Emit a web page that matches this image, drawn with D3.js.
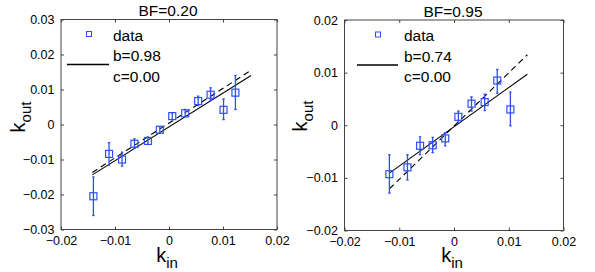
<!DOCTYPE html>
<html>
<head>
<meta charset="utf-8">
<script src="https://cdn.jsdelivr.net/npm/d3@7"></script>
<style>
  body { margin: 0; background: #fff; }
  text { font-family: "Liberation Sans", Arial, sans-serif; fill: #000; }
</style>
</head>
<body>
<svg id="chart"></svg>
<script>
// left panel, BF=0.20
const kIn1 = [-0.0140, -0.0111, -0.0087, -0.0064, -0.0039, -0.0017, 0.0006, 0.0030, 0.0054, 0.0077, 0.0101, 0.0123];
const kOut1 = [-0.0205, -0.0084, -0.0100, -0.0055, -0.0047, -0.0015, 0.0024, 0.0032, 0.0067, 0.0085, 0.0042, 0.0091];
const errLo1 = [-0.0260, -0.0116, -0.0119, -0.0067, -0.0057, -0.0024, 0.0014, 0.0022, 0.0054, 0.0069, 0.0014, 0.0043];
const errHi1 = [-0.0150, -0.0052, -0.0079, -0.0041, -0.0036, -0.0006, 0.0033, 0.0043, 0.0081, 0.0105, 0.0073, 0.0140];
const fit1 = [{ x: -0.0142, y: -0.0144 }, { x: 0.0152, y: 0.0140 }];
const unity1 = [{ x: -0.0142, y: -0.0137 }, { x: 0.0152, y: 0.0155 }];
const legend1 = ['data', 'b=0.98', 'c=0.00'];

// right panel, BF=0.95
const kIn2 = [-0.0118, -0.0085, -0.0062, -0.0039, -0.0016, 0.0008, 0.0032, 0.0056, 0.0079, 0.0103];
const kOut2 = [-0.0093, -0.0080, -0.0039, -0.0038, -0.0025, 0.0016, 0.0041, 0.0044, 0.0085, 0.0030];
const errLo2 = [-0.0129, -0.0104, -0.0056, -0.0052, -0.0039, 0.0004, 0.0027, 0.0028, 0.0061, -0.0001];
const errHi2 = [-0.0056, -0.0056, -0.0022, -0.0023, -0.0014, 0.0027, 0.0054, 0.0059, 0.0106, 0.0063];
const fit2 = [{ x: -0.0118, y: -0.0091 }, { x: 0.0134, y: 0.0097 }];
const unity2 = [{ x: -0.0118, y: -0.0121 }, { x: 0.0134, y: 0.0134 }];
const legend2 = ['data', 'b=0.74', 'c=0.00'];

const xTicks = [-0.02, -0.01, 0, 0.01, 0.02];
const yTicks1 = [-0.03, -0.02, -0.01, 0, 0.01, 0.02, 0.03];
const yTicks2 = [-0.02, -0.01, 0, 0.01, 0.02];

const width = 595;
const height = 272;
const blue = '#2f4ff2';

const svg = d3.select('#chart')
  .attr('width', width)
  .attr('height', height);

svg.append('rect').attr('width', width).attr('height', height).attr('fill', '#fff');

const fmt = d => (d === 0 ? '0' : d3.format('.2f')(d));

function drawPanel(p) {
  const xScale = d3.scaleLinear().domain([-0.02, 0.02]).range([p.left, p.right]);
  const yScale = d3.scaleLinear().domain(p.yDomain).range([p.bottom, p.top]);
  const g = svg.append('g');

  // axes, ticks pointing inward on all four sides
  const xb = g.append('g').attr('transform', `translate(0,${p.bottom})`)
    .call(d3.axisBottom(xScale).tickValues(xTicks).tickSizeInner(-3).tickSizeOuter(0).tickPadding(7).tickFormat(fmt));
  const xt = g.append('g').attr('transform', `translate(0,${p.top})`)
    .call(d3.axisTop(xScale).tickValues(xTicks).tickSizeInner(-3).tickSizeOuter(0).tickFormat(''));
  const yl = g.append('g').attr('transform', `translate(${p.left},0)`)
    .call(d3.axisLeft(yScale).tickValues(p.yTicks).tickSizeInner(-3).tickSizeOuter(0).tickPadding(6.5).tickFormat(fmt));
  const yr = g.append('g').attr('transform', `translate(${p.right},0)`)
    .call(d3.axisRight(yScale).tickValues(p.yTicks).tickSizeInner(-3).tickSizeOuter(0).tickFormat(''));
  [xb, xt, yl, yr].forEach(a => {
    a.select('.domain').remove();
    a.selectAll('line').attr('stroke', '#444');
    a.selectAll('text').style('font-size', '12.5px').style('font-family', '"Liberation Sans", Arial, sans-serif');
  });

  g.append('rect')
    .attr('x', p.left).attr('y', p.top)
    .attr('width', p.right - p.left).attr('height', p.bottom - p.top)
    .attr('fill', 'none').attr('stroke', '#444').attr('stroke-width', 1);

  const line = d3.line().x(d => xScale(d.x)).y(d => yScale(d.y));

  g.append('path').datum(p.unity)
    .attr('d', line).attr('fill', 'none').attr('stroke', '#000')
    .attr('stroke-width', 1.1).attr('stroke-dasharray', '6,4');
  g.append('path').datum(p.fit)
    .attr('d', line).attr('fill', 'none').attr('stroke', '#000').attr('stroke-width', 1.1);

  const pts = p.kIn.map((k, i) => ({ x: k, y: p.kOut[i], lo: p.errLo[i], hi: p.errHi[i] }));

  // error bars
  g.selectAll('.err').data(pts).enter().append('line')
    .attr('x1', d => xScale(d.x)).attr('x2', d => xScale(d.x))
    .attr('y1', d => yScale(d.lo)).attr('y2', d => yScale(d.hi))
    .attr('stroke', blue).attr('stroke-width', 1.3);
  ['lo', 'hi'].forEach(key => {
    g.selectAll('.cap' + key).data(pts).enter().append('line')
      .attr('x1', d => xScale(d.x) - 1.2).attr('x2', d => xScale(d.x) + 1.2)
      .attr('y1', d => yScale(d[key])).attr('y2', d => yScale(d[key]))
      .attr('stroke', blue).attr('stroke-width', 1.3);
  });

  // square markers
  g.selectAll('.mark').data(pts).enter().append('rect')
    .attr('x', d => xScale(d.x) - 3.5).attr('y', d => yScale(d.y) - 3.5)
    .attr('width', 7).attr('height', 7)
    .attr('fill', 'none').attr('stroke', blue).attr('stroke-width', 1.2);

  // title
  g.append('text')
    .attr('x', (p.left + p.right) / 2 - 1).attr('y', p.top - 3.5)
    .attr('text-anchor', 'middle').style('font-size', '15.5px')
    .text(p.title);

  // legend
  g.append('rect')
    .attr('x', p.legX - 2.5).attr('y', p.top + 12).attr('width', 5).attr('height', 5)
    .attr('fill', 'none').attr('stroke', blue).attr('stroke-width', 1);
  g.append('line')
    .attr('x1', p.legLine[0]).attr('x2', p.legLine[1])
    .attr('y1', p.top + 45).attr('y2', p.top + 45)
    .attr('stroke', '#000').attr('stroke-width', 1.3);
  p.legend.forEach((t, i) => {
    g.append('text')
      .attr('x', p.legText).attr('y', p.top + 21 + i * 20.5)
      .style('font-size', '15.5px')
      .text(t);
  });

  // axis labels
  const xl = g.append('text')
    .attr('x', (p.left + p.right) / 2 - 2).attr('y', 262)
    .attr('text-anchor', 'middle').style('font-size', '20px');
  xl.append('tspan').text('k');
  xl.append('tspan').attr('dy', 6).style('font-size', '15px').text('in');

  const ylab = g.append('text')
    .attr('transform', `translate(${p.yLabX},${p.yLabY}) rotate(-90)`)
    .attr('text-anchor', 'middle').style('font-size', '20px');
  ylab.append('tspan').text('k');
  ylab.append('tspan').attr('dy', 6).style('font-size', '15px').text('out');
}

drawPanel({
  left: 61, right: 277, top: 19.5, bottom: 229.5,
  yDomain: [-0.03, 0.03], yTicks: yTicks1,
  kIn: kIn1, kOut: kOut1, errLo: errLo1, errHi: errHi1,
  fit: fit1, unity: unity1, legend: legend1, title: 'BF=0.20',
  legX: 89, legText: 113, legLine: [67, 109],
  yLabX: 25, yLabY: 117
});

drawPanel({
  left: 344.5, right: 563.5, top: 20, bottom: 230.5,
  yDomain: [-0.02, 0.02], yTicks: yTicks2,
  kIn: kIn2, kOut: kOut2, errLo: errLo2, errHi: errHi2,
  fit: fit2, unity: unity2, legend: legend2, title: 'BF=0.95',
  legX: 378, legText: 404, legLine: [357, 398],
  yLabX: 307, yLabY: 116
});
</script>
</body>
</html>
